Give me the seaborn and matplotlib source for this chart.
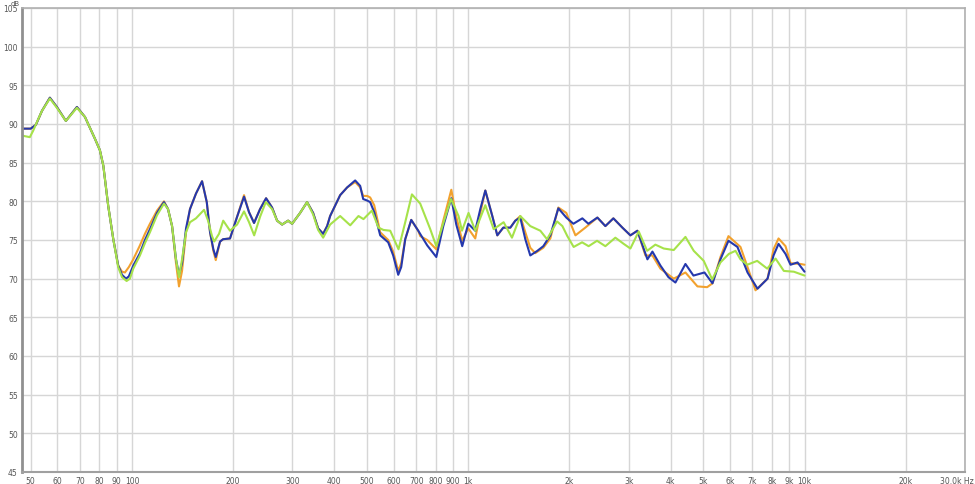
import numpy as np
import pandas as pd
import seaborn as sns
import matplotlib
matplotlib.use("Agg")
import matplotlib.pyplot as plt
import matplotlib.transforms as mtransforms
from matplotlib.ticker import FixedLocator, FixedFormatter, NullLocator

sns.set_style("white")
plt.rcParams['font.family'] = ['DejaVu Sans']

# ---- data (Hz, dB) ----
freq_blue = [47.1, 50.0, 51.8, 54.0, 57.0, 59.8, 63.6, 68.6, 72.5, 77.6, 80.3, 82.2, 85.0, 88.0,
             91.0, 93.4, 96.0, 97.9, 100.9, 105.6, 109.3, 113.1, 118.7, 124.5, 128.0, 131.6,
             135.2, 138.0, 140.9, 144.8, 148.8, 155.0, 161.6, 166.9, 170.7, 174.6, 177.5, 182.8,
             186.6, 195.7, 205.4, 215.4, 222.9, 230.7, 240.4, 250.5, 261.0, 270.1, 279.6, 291.3,
             299.4, 316.2, 331.7, 345.7, 357.8, 370.3, 380.5, 388.4, 416.0, 436.4, 461.0, 477.1,
             487.0, 500.6, 510.9, 525.2, 547.3, 578.0, 598.2, 619.1, 631.9, 649.5, 676.8, 710.0,
             755.1, 803.5, 842.9, 890.5, 921.3, 959.6, 1000, 1049, 1086, 1124, 1179, 1220, 1271,
             1334, 1380, 1428, 1478, 1529, 1605, 1672, 1754, 1853, 1957, 2054, 2184, 2276, 2421,
             2557, 2701, 2873, 3035, 3184, 3410, 3529, 3727, 3937, 4131, 4424, 4673, 5040, 5324,
             5623, 5940, 6317, 6768, 7246, 7762, 8087, 8369, 8779, 9085, 9532, 10000]
db_blue = [89.4, 89.4, 89.9, 91.7, 93.4, 92.2, 90.4, 92.2, 90.9, 88.1, 86.6, 84.6, 79.4, 75.1,
           71.7, 70.5, 70.0, 70.3, 71.7, 73.3, 75.0, 76.4, 78.5, 79.9, 79.0, 76.8,
           72.5, 70.5, 72.0, 76.5, 79.0, 81.0, 82.6, 79.9, 76.0, 73.8, 72.8, 74.8,
           75.1, 75.2, 78.0, 80.6, 78.6, 77.2, 79.0, 80.4, 79.2, 77.5, 77.0, 77.5,
           77.1, 78.5, 79.9, 78.5, 76.5, 75.8, 76.8, 78.1, 80.8, 81.8, 82.7, 82.0,
           80.3, 80.1, 79.9, 78.6, 75.6, 74.7, 73.0, 70.5, 71.5, 75.1, 77.6, 76.2,
           74.3, 72.8, 76.8, 80.4, 77.0, 74.2, 77.1, 76.2, 79.0, 81.4, 78.1, 75.6, 76.6,
           76.6, 77.5, 77.9, 75.1, 73.0, 73.6, 74.2, 75.6, 79.1, 77.9, 77.1, 77.8, 77.1, 77.9,
           76.8, 77.8, 76.6, 75.6, 76.2, 72.5, 73.5, 71.7, 70.2, 69.5, 71.9, 70.4, 70.8, 69.4,
           72.5, 74.9, 74.1, 70.8, 68.7, 70.0, 73.0, 74.5, 73.2, 71.8, 72.1, 70.9]

freq_orange = [47.1, 50.0, 51.8, 54.0, 57.0, 59.8, 63.6, 68.6, 72.5, 77.6, 80.3, 82.2, 85.0, 88.0,
               91.0, 93.4, 95.3, 97.9, 100.9, 105.6, 109.3, 113.1, 118.7, 124.5, 128.0, 131.6,
               135.2, 138.0, 140.9, 144.8, 148.8, 155.0, 161.6, 166.9, 170.7, 174.6, 177.5, 182.8,
               186.6, 195.7, 205.4, 215.4, 222.9, 230.7, 240.4, 250.5, 261.0, 270.1, 279.6, 291.3,
               299.4, 316.2, 331.7, 345.7, 357.8, 370.3, 380.5, 388.4, 416.0, 436.4, 461.0, 477.1,
               487.0, 500.6, 510.9, 525.2, 547.3, 578.0, 598.2, 619.1, 631.9, 649.5, 676.8, 710.0,
               719.8, 755.1, 803.5, 842.9, 890.5, 921.3, 959.6, 1000, 1049, 1086, 1124, 1179, 1220,
               1271, 1334, 1380, 1428, 1478, 1529, 1582, 1672, 1754, 1853, 1957, 2083, 2229, 2421,
               2557, 2701, 2873, 3035, 3184, 3364, 3529, 3727, 4083, 4424, 4803, 5133, 5324, 5623,
               5940, 6449, 6768, 7148, 7762, 8087, 8369, 8779, 9085, 9729, 10000]
db_orange = [89.4, 89.4, 89.9, 91.7, 93.4, 92.2, 90.4, 92.2, 90.9, 88.1, 86.6, 84.6, 79.4, 75.1,
             71.7, 70.9, 70.8, 71.5, 72.5, 74.3, 75.8, 77.1, 78.8, 80.0, 79.0, 76.8,
             72.0, 69.0, 71.0, 76.0, 79.0, 81.0, 82.6, 79.9, 76.0, 73.6, 72.4, 74.8,
             75.1, 75.2, 78.0, 80.8, 78.6, 77.2, 79.0, 80.4, 79.2, 77.5, 77.0, 77.5,
             77.1, 78.5, 79.9, 78.5, 76.5, 75.8, 76.8, 78.1, 80.8, 81.8, 82.5, 81.8,
             80.7, 80.7, 80.5, 79.5, 76.0, 75.0, 73.5, 71.0, 72.0, 75.1, 77.6, 76.2,
             75.5, 75.0, 73.8, 77.5, 81.5, 78.0, 74.9, 76.5, 75.2, 78.5, 81.4, 78.1, 75.6,
             76.6, 76.6, 77.5, 78.1, 76.0, 74.0, 73.3, 74.0, 75.2, 79.2, 78.5, 75.6, 76.6, 77.9,
             76.8, 77.8, 76.6, 75.6, 76.2, 73.0, 73.0, 71.3, 70.0, 70.8, 69.0, 68.9, 69.4, 72.8,
             75.5, 74.1, 71.5, 68.5, 70.0, 73.8, 75.2, 74.2, 72.0, 71.9, 71.8]

freq_green = [47.1, 49.7, 50.8, 52.6, 54.0, 57.0, 59.8, 63.6, 68.6, 72.5, 77.6, 80.3, 82.2, 85.0,
              88.0, 91.0, 93.4, 96.4, 98.6, 100.9, 105.6, 109.3, 113.1, 118.7, 124.5, 128.0,
              131.6, 135.2, 138.0, 140.9, 144.8, 148.8, 155.0, 163.8, 168.4, 173.0, 175.6, 181.5,
              186.8, 195.7, 205.4, 215.4, 222.9, 230.9, 240.4, 250.0, 261.0, 270.1, 279.6, 291.3,
              299.4, 316.2, 331.7, 345.7, 357.8, 370.3, 388.4, 416.0, 445.7, 471.6, 488.0, 516.9,
              540.8, 559.6, 586.1, 620.3, 649.5, 680.0, 719.8, 770.9, 803.5, 844.6, 888.6, 935.7,
              957.9, 1002, 1049, 1124, 1190, 1274, 1349, 1428, 1529, 1638, 1715, 1837, 1905, 1971,
              2058, 2180, 2280, 2415, 2557, 2738, 2899, 3035, 3213, 3403, 3601, 3813, 4083, 4424,
              4683, 5015, 5313, 5623, 5954, 6232, 6449, 6754, 7231, 7744, 8200, 8678, 9295, 10000]
db_green = [88.5, 88.3, 89.1, 90.6, 91.7, 93.3, 92.1, 90.4, 92.1, 90.9, 88.1, 86.6, 84.6, 79.4,
            75.1, 71.5, 70.2, 69.7, 70.0, 71.3, 73.0, 74.6, 76.0, 78.2, 79.7, 79.0,
            76.8, 72.5, 70.2, 72.5, 76.0, 77.3, 77.8, 78.9, 77.5, 75.5, 74.8, 75.8,
            77.5, 76.2, 77.0, 78.7, 77.3, 75.6, 78.0, 79.9, 79.0, 77.5, 77.0, 77.5,
            77.1, 78.5, 79.9, 78.3, 76.3, 75.3, 77.0, 78.1, 76.9, 78.1, 77.7, 78.8,
            76.6, 76.3, 76.2, 73.8, 77.3, 80.9, 79.7, 76.4, 74.2, 77.3, 80.3, 78.1,
            76.2, 78.5, 76.2, 79.5, 76.4, 77.3, 75.3, 78.1, 76.8, 76.2, 75.1, 77.4, 76.8, 75.5,
            74.1, 74.7, 74.2, 74.9, 74.2, 75.3, 74.5, 73.9, 76.1, 73.6, 74.4, 73.9, 73.7, 75.4,
            73.6, 72.3, 69.9, 72.1, 73.2, 73.6, 72.5, 71.8, 72.3, 71.3, 72.6, 71.0, 70.9, 70.4]

x_ticks = [50, 60, 70, 80, 90, 100, 200, 300, 400, 500, 600, 700, 800, 900, 1000,
           2000, 3000, 4000, 5000, 6000, 7000, 8000, 9000, 10000, 20000, 30000]
x_labels = ["50", "60", "70", "80", "90", "100", "200", "300", "400", "500", "600", "700",
            "800", "900", "1k", "2k", "3k", "4k", "5k", "6k", "7k", "8k", "9k", "10k", "20k",
            "30.0k Hz"]
y_ticks = [45, 50, 55, 60, 65, 70, 75, 80, 85, 90, 95, 100, 105]

trace_names = ["orange", "blue", "green"]
trace_colors = {"orange": "#f2a12e", "blue": "#2538ad", "green": "#a6e24a"}

df = pd.concat([
    pd.DataFrame({"Frequency": freq_orange, "SPL": db_orange, "Trace": "orange"}),
    pd.DataFrame({"Frequency": freq_blue, "SPL": db_blue, "Trace": "blue"}),
    pd.DataFrame({"Frequency": freq_green, "SPL": db_green, "Trace": "green"}),
], ignore_index=True)

fig = plt.figure(figsize=(9.75, 4.85), dpi=100)
ax = fig.add_axes([22 / 975, 12 / 485, 943 / 975, 464 / 485])

ax.set_xscale("log")
sns.lineplot(data=df, x="Frequency", y="SPL", hue="Trace", hue_order=trace_names,
             palette=trace_colors, estimator=None, linewidth=1.5, legend=False, ax=ax)

ax.set_xlim(47.1, 30000)
ax.set_ylim(45, 105)
ax.xaxis.set_major_locator(FixedLocator(x_ticks))
ax.xaxis.set_major_formatter(FixedFormatter(x_labels))
ax.xaxis.set_minor_locator(NullLocator())
ax.set_yticks(y_ticks)
ax.set_yticklabels([str(v) for v in y_ticks])
ax.grid(True, color="#d6d6d6", linewidth=1.0)
ax.set_axisbelow(True)
ax.tick_params(axis="both", length=0, labelsize=5.5, colors="#555555", pad=3)
ax.set_xlabel("")
ax.set_ylabel("")
for s in ax.spines.values():
    s.set_color("#b0b0b0")
    s.set_linewidth(1.2)
ax.spines["left"].set_color("#909090")
ax.spines["left"].set_linewidth(2)
ax.spines["bottom"].set_color("#a0a0a0")
ax.spines["bottom"].set_linewidth(1.5)

# keep the last x label ("30.0k Hz") inside the figure, ending at its right edge
fig.canvas.draw()
last = ax.get_xticklabels()[-1]
last.set_horizontalalignment("right")
last.set_transform(last.get_transform() +
                   mtransforms.ScaledTranslation(9 / 100, 0, fig.dpi_scale_trans))

fig.text(15 / 975, 1 - 0.5 / 485, "dB", ha="center", va="top", fontsize=5, color="#555555")

fig.savefig("out.png", dpi=100)
